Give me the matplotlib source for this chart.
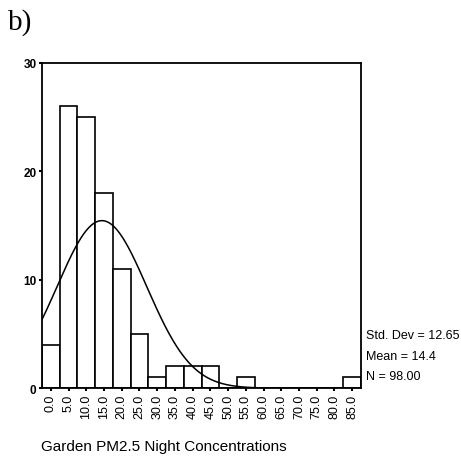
import matplotlib.pyplot as plt
import numpy as np

# histogram bins (centres) and counts
bin_centres = [0, 5, 10, 15, 20, 25, 30, 35, 40, 45, 50, 55, 60, 65, 70, 75, 80, 85]
counts = [4, 26, 25, 18, 11, 5, 1, 2, 2, 2, 0, 1, 0, 0, 0, 0, 0, 1]
tick_labels = ['%.1f' % c for c in bin_centres]
bin_width = 5

std_dev = 12.65
mean = 14.4
n = 98.00

plt.rcParams['font.family'] = ['Liberation Sans', 'DejaVu Sans']

fig = plt.figure(figsize=(4.61, 4.60), dpi=100)
ax = fig.add_axes([0.0911, 0.154, 0.692, 0.707])

ax.bar(bin_centres, counts, width=bin_width, color='white', edgecolor='black', linewidth=1.2)

# normal curve from the stated mean / sd, scaled to the counts
xs = np.linspace(-2.5, 87.5, 400)
ys = n * bin_width / (std_dev * np.sqrt(2 * np.pi)) * np.exp(-0.5 * ((xs - mean) / std_dev) ** 2)
ax.plot(xs, ys, color='black', linewidth=1.1)

ax.set_xlim(-2.5, 87.5)
ax.set_ylim(0, 30)
ax.set_xticks(bin_centres)
ax.set_xticklabels(tick_labels, rotation=90, fontsize=9)
ax.set_yticks([0, 10, 20, 30])
ax.set_yticklabels(['0', '10', '20', '30'], fontsize=8.5, fontweight='bold')
ax.tick_params(length=2, width=1.5, pad=2)
for s in ax.spines.values():
    s.set_linewidth(1.3)

fig.text(0.794, 0.270, 'Std. Dev = %.2f' % std_dev, fontsize=9, va='center')
fig.text(0.794, 0.224, 'Mean = %.1f' % mean, fontsize=9, va='center')
fig.text(0.794, 0.180, 'N = %.2f' % n, fontsize=9, va='center')

fig.text(0.089, 0.028, 'Garden PM2.5 Night Concentrations', fontsize=11, va='center')
fig.text(0.017, 0.950, 'b)', fontsize=21, family='Liberation Serif', va='center')

fig.savefig('out.png', dpi=100)
